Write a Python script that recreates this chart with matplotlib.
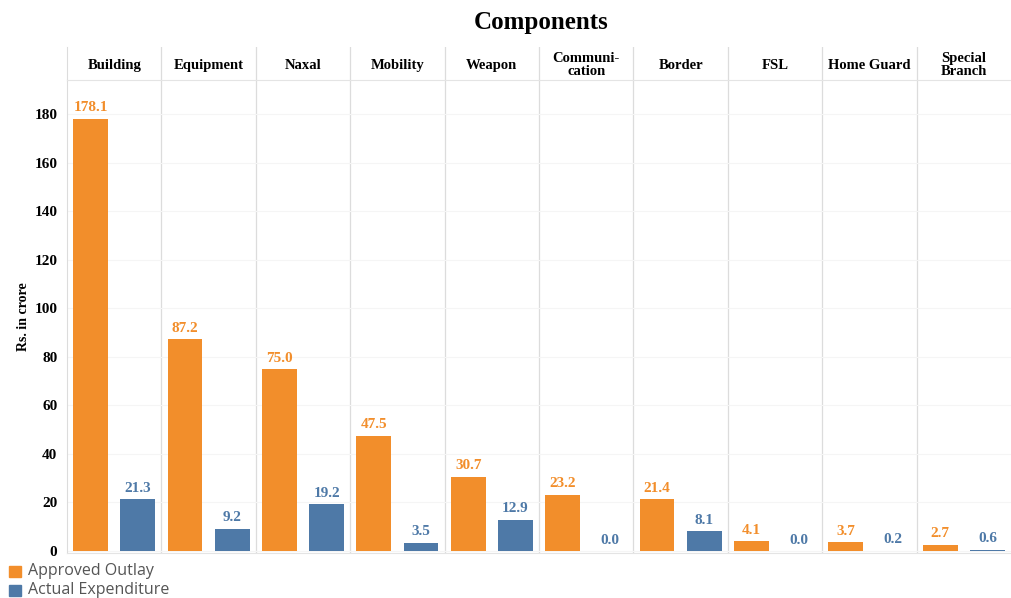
import matplotlib.pyplot as plt
import numpy as np

components = ['Building', 'Equipment', 'Naxal', 'Mobility', 'Weapon',
              'Communi-\ncation', 'Border', 'FSL', 'Home Guard', 'Special\nBranch']
approved_outlay = [178.1, 87.2, 75.0, 47.5, 30.7, 23.2, 21.4, 4.1, 3.7, 2.7]
actual_expenditure = [21.3, 9.2, 19.2, 3.5, 12.9, 0.0, 8.1, 0.0, 0.2, 0.6]
y_ticks = [0, 20, 40, 60, 80, 100, 120, 140, 160, 180]

orange = '#F28E2B'
blue = '#4E79A7'
serif = 'Liberation Serif'

fig = plt.figure(figsize=(10.11, 5.98), dpi=100)
W, H = 1011, 598

# main plot area
ax = fig.add_axes([67 / W, 1 - 553 / H, 944 / W, (553 - 80) / H])
hdr = fig.add_axes([67 / W, 1 - 80 / H, 944 / W, 33 / H])

x = np.arange(len(components))
ax.bar(x - 0.25, approved_outlay, width=0.37, color=orange, zorder=3)
ax.bar(x + 0.25, actual_expenditure, width=0.37, color=blue, zorder=3)

for xi, v in zip(x, approved_outlay):
    ax.text(xi - 0.25, v + 1.8, '{:.1f}'.format(v), ha='center', va='bottom',
            color=orange, fontsize=11, fontweight='bold', family=serif)
for xi, v in zip(x, actual_expenditure):
    ax.text(xi + 0.25, v + 1.8, '{:.1f}'.format(v), ha='center', va='bottom',
            color=blue, fontsize=11, fontweight='bold', family=serif)

ax.set_xlim(-0.5, len(components) - 0.5)
ax.set_ylim(-0.8, 194)
ax.set_yticks(y_ticks)
ax.set_yticklabels([str(t) for t in y_ticks], fontsize=11, fontweight='bold',
                   family=serif)
ax.set_xticks([])
ax.tick_params(axis='y', length=0, pad=7)
ax.set_ylabel('Rs. in crore', fontsize=10, fontweight='bold', family=serif,
              labelpad=3)
ax.grid(axis='y', color='#f5f5f5', linewidth=0.8, zorder=0)
for i in range(len(components) - 1):
    ax.axvline(i + 0.5, color='#dcdcdc', linewidth=0.9, zorder=1)
for side in ['top', 'right']:
    ax.spines[side].set_visible(False)
ax.spines['left'].set_color('#dcdcdc')
ax.spines['bottom'].set_color('#e4e4e4')

# header row
hdr.set_xlim(-0.5, len(components) - 0.5)
hdr.set_ylim(0, 1)
hdr.set_xticks([])
hdr.set_yticks([])
for i, name in enumerate(components):
    hdr.text(i, 0.45, name, ha='center', va='center', fontsize=10.5,
             fontweight='bold', family=serif, linespacing=1.0)
for i in range(len(components) - 1):
    hdr.axvline(i + 0.5, color='#dcdcdc', linewidth=0.9)
for side in ['top', 'right']:
    hdr.spines[side].set_visible(False)
hdr.spines['left'].set_color('#dcdcdc')
hdr.spines['bottom'].set_color('#e4e4e4')

fig.text(0.535, 1 - 23 / H, 'Components', ha='center', va='center',
         fontsize=18, fontweight='bold', family=serif)

# legend
for yy, c, lab in [(571, orange, 'Approved Outlay'),
                   (590, blue, 'Actual Expenditure')]:
    fig.patches.append(plt.Rectangle((9 / W, 1 - (yy + 6) / H), 12 / W, 11 / H,
                                     color=c, transform=fig.transFigure))
    fig.text(28 / W, 1 - yy / H, lab, ha='left', va='center', fontsize=11.5,
             color='#555555', family='Open Sans')

fig.savefig('out.png', dpi=100)
